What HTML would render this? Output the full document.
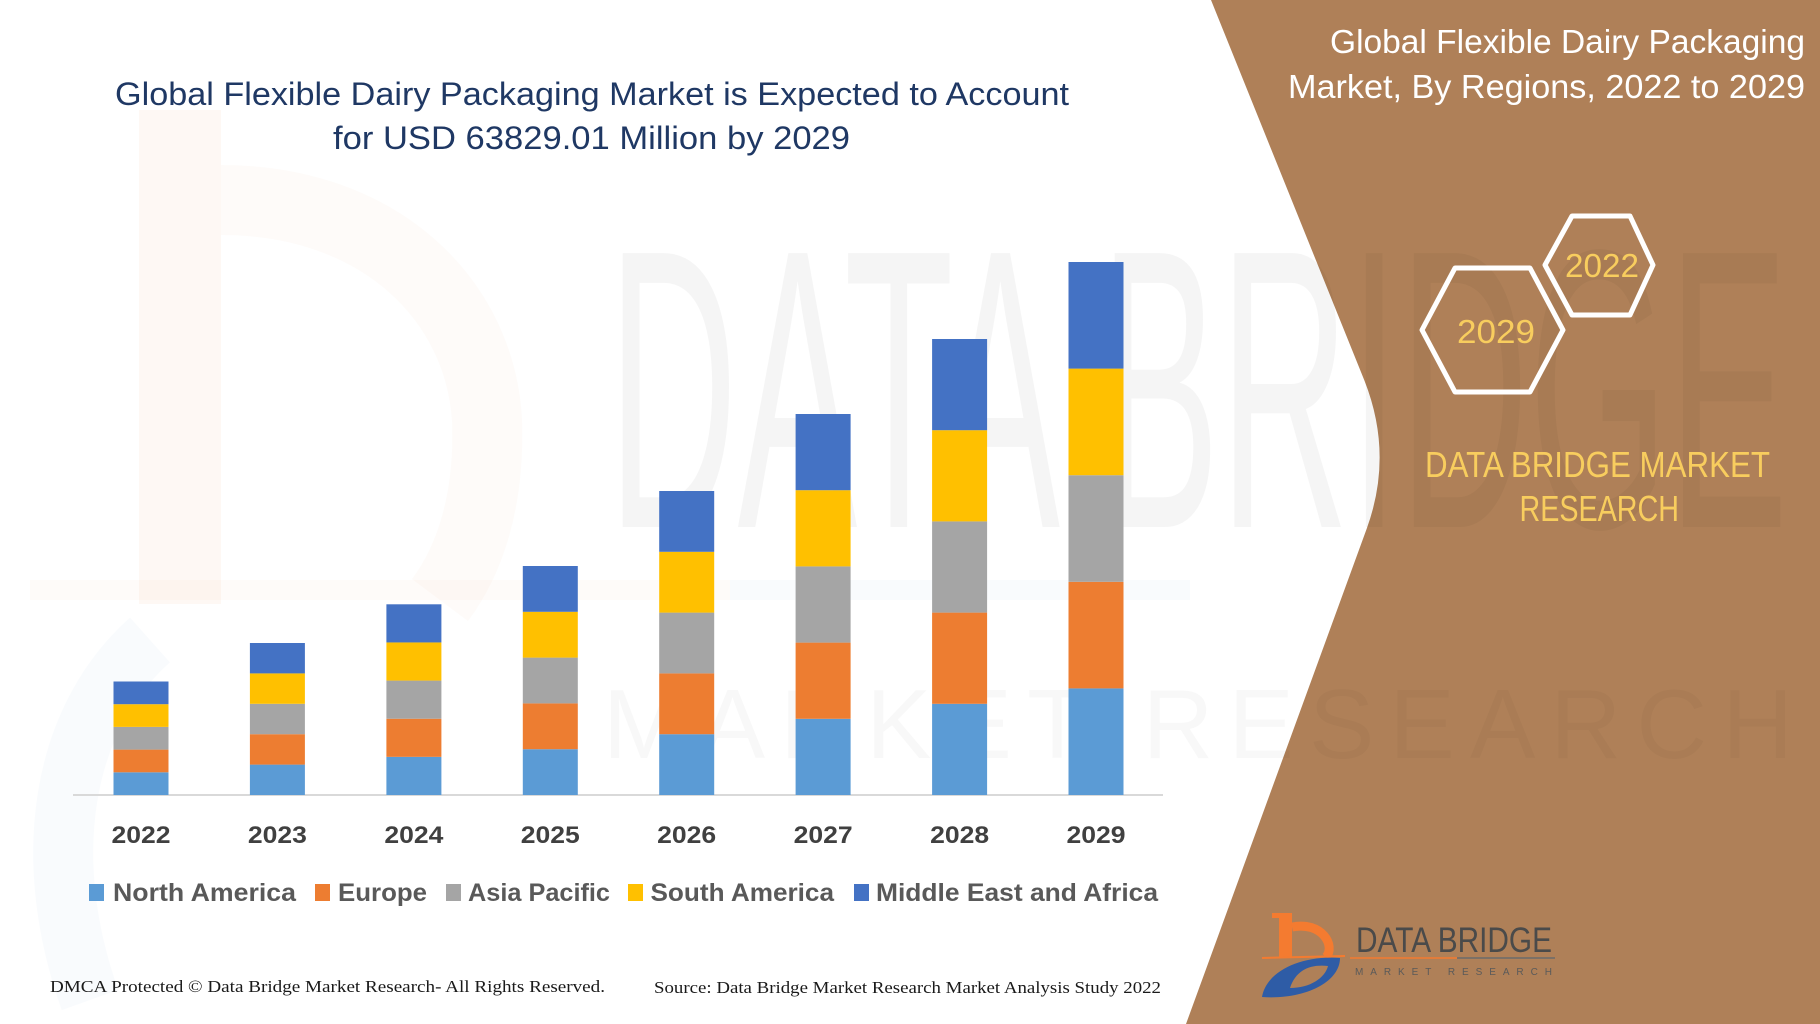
<!DOCTYPE html>
<html><head><meta charset="utf-8"><style>
html,body{margin:0;padding:0;background:#fff;}
svg{display:block;}
</style></head><body>
<svg width="1820" height="1024" viewBox="0 0 1820 1024" xmlns="http://www.w3.org/2000/svg">
<rect width="1820" height="1024" fill="#ffffff"/>
<!-- faint left logo watermark -->
<rect x="139" y="110" width="82" height="494" fill="#ED7D31" opacity="0.05"/>
<path d="M221,200 C380,200 480,300 487,420 C490,500 470,560 440,600" stroke="#ED7D31" stroke-width="70" fill="none" opacity="0.03"/>
<path d="M150,640 C60,720 40,860 90,1000" stroke="#4472C4" stroke-width="60" fill="none" opacity="0.03"/>
<rect x="30" y="580" width="700" height="20" fill="#ED7D31" opacity="0.03"/>
<rect x="730" y="580" width="460" height="20" fill="#4472C4" opacity="0.03"/>

<!-- brown panel -->
<path d="M1211,0 L1363.8,379 Q1394,454 1366.6,529 L1186,1024 L1820,1024 L1820,0 Z" fill="#AF8058"/>

<!-- big watermark -->
<text x="608" y="527" font-family="Liberation Sans, sans-serif" font-size="398" textLength="1180" lengthAdjust="spacingAndGlyphs" fill="#000" opacity="0.035">DATA BRIDGE</text>
<text x="603" y="758" font-family="Liberation Sans, sans-serif" font-size="98" textLength="1190" lengthAdjust="spacing" fill="#000" opacity="0.025">MARKET RESEARCH</text>

<!-- title -->
<g font-family="Liberation Sans, sans-serif" font-size="32" fill="#1F3864">
<text x="115" y="105" textLength="954" lengthAdjust="spacingAndGlyphs">Global Flexible Dairy Packaging Market is Expected to Account</text>
<text x="333" y="149" textLength="517" lengthAdjust="spacingAndGlyphs">for USD 63829.01 Million by 2029</text>
</g>

<!-- axis -->
<line x1="73" y1="795" x2="1163" y2="795" stroke="#D9D9D9" stroke-width="2"/>

<!-- bars -->
<g>
<rect x="113.5" y="772.3" width="55" height="22.7" fill="#5B9BD5"/>
<rect x="113.5" y="749.6" width="55" height="22.7" fill="#ED7D31"/>
<rect x="113.5" y="726.9" width="55" height="22.7" fill="#A5A5A5"/>
<rect x="113.5" y="704.2" width="55" height="22.7" fill="#FFC000"/>
<rect x="113.5" y="681.5" width="55" height="22.7" fill="#4472C4"/>
<rect x="249.9" y="764.6" width="55" height="30.4" fill="#5B9BD5"/>
<rect x="249.9" y="734.2" width="55" height="30.4" fill="#ED7D31"/>
<rect x="249.9" y="703.8" width="55" height="30.4" fill="#A5A5A5"/>
<rect x="249.9" y="673.4" width="55" height="30.4" fill="#FFC000"/>
<rect x="249.9" y="643.0" width="55" height="30.4" fill="#4472C4"/>
<rect x="386.4" y="756.86" width="55" height="38.14" fill="#5B9BD5"/>
<rect x="386.4" y="718.72" width="55" height="38.14" fill="#ED7D31"/>
<rect x="386.4" y="680.58" width="55" height="38.14" fill="#A5A5A5"/>
<rect x="386.4" y="642.44" width="55" height="38.14" fill="#FFC000"/>
<rect x="386.4" y="604.3" width="55" height="38.14" fill="#4472C4"/>
<rect x="522.8" y="749.2" width="55" height="45.8" fill="#5B9BD5"/>
<rect x="522.8" y="703.4" width="55" height="45.8" fill="#ED7D31"/>
<rect x="522.8" y="657.6" width="55" height="45.8" fill="#A5A5A5"/>
<rect x="522.8" y="611.8" width="55" height="45.8" fill="#FFC000"/>
<rect x="522.8" y="566.0" width="55" height="45.8" fill="#4472C4"/>
<rect x="659.2" y="734.2" width="55" height="60.8" fill="#5B9BD5"/>
<rect x="659.2" y="673.4" width="55" height="60.8" fill="#ED7D31"/>
<rect x="659.2" y="612.6" width="55" height="60.8" fill="#A5A5A5"/>
<rect x="659.2" y="551.8" width="55" height="60.8" fill="#FFC000"/>
<rect x="659.2" y="491.0" width="55" height="60.8" fill="#4472C4"/>
<rect x="795.6" y="718.8" width="55" height="76.2" fill="#5B9BD5"/>
<rect x="795.6" y="642.6" width="55" height="76.2" fill="#ED7D31"/>
<rect x="795.6" y="566.4" width="55" height="76.2" fill="#A5A5A5"/>
<rect x="795.6" y="490.2" width="55" height="76.2" fill="#FFC000"/>
<rect x="795.6" y="414.0" width="55" height="76.2" fill="#4472C4"/>
<rect x="932.1" y="703.8" width="55" height="91.2" fill="#5B9BD5"/>
<rect x="932.1" y="612.6" width="55" height="91.2" fill="#ED7D31"/>
<rect x="932.1" y="521.4" width="55" height="91.2" fill="#A5A5A5"/>
<rect x="932.1" y="430.2" width="55" height="91.2" fill="#FFC000"/>
<rect x="932.1" y="339.0" width="55" height="91.2" fill="#4472C4"/>
<rect x="1068.5" y="688.4" width="55" height="106.6" fill="#5B9BD5"/>
<rect x="1068.5" y="581.8" width="55" height="106.6" fill="#ED7D31"/>
<rect x="1068.5" y="475.2" width="55" height="106.6" fill="#A5A5A5"/>
<rect x="1068.5" y="368.6" width="55" height="106.6" fill="#FFC000"/>
<rect x="1068.5" y="262.0" width="55" height="106.6" fill="#4472C4"/>
</g>

<!-- year labels -->
<g font-family="Liberation Sans, sans-serif" font-size="24" font-weight="bold" fill="#404040">
<text x="111.5" y="843" textLength="59" lengthAdjust="spacingAndGlyphs">2022</text>
<text x="247.9" y="843" textLength="59" lengthAdjust="spacingAndGlyphs">2023</text>
<text x="384.4" y="843" textLength="59" lengthAdjust="spacingAndGlyphs">2024</text>
<text x="520.8" y="843" textLength="59" lengthAdjust="spacingAndGlyphs">2025</text>
<text x="657.2" y="843" textLength="59" lengthAdjust="spacingAndGlyphs">2026</text>
<text x="793.6" y="843" textLength="59" lengthAdjust="spacingAndGlyphs">2027</text>
<text x="930.1" y="843" textLength="59" lengthAdjust="spacingAndGlyphs">2028</text>
<text x="1066.5" y="843" textLength="59" lengthAdjust="spacingAndGlyphs">2029</text>
</g>

<!-- legend -->
<rect x="89" y="884" width="15" height="17" fill="#5B9BD5"/>
<rect x="315" y="884" width="15" height="17" fill="#ED7D31"/>
<rect x="446" y="884" width="15" height="17" fill="#A5A5A5"/>
<rect x="628" y="884" width="15" height="17" fill="#FFC000"/>
<rect x="854" y="884" width="15" height="17" fill="#4472C4"/>
<g font-family="Liberation Sans, sans-serif" font-size="25" font-weight="bold" fill="#595959">
<text x="113" y="901" textLength="183" lengthAdjust="spacingAndGlyphs">North America</text>
<text x="338" y="901" textLength="89" lengthAdjust="spacingAndGlyphs">Europe</text>
<text x="468" y="901" textLength="142" lengthAdjust="spacingAndGlyphs">Asia Pacific</text>
<text x="650.5" y="901" textLength="183.5" lengthAdjust="spacingAndGlyphs">South America</text>
<text x="876" y="901" textLength="282" lengthAdjust="spacingAndGlyphs">Middle East and Africa</text>
</g>

<!-- footer -->
<g font-family="Liberation Serif, serif" font-size="17" fill="#1a1a1a">
<text x="50" y="992" textLength="555" lengthAdjust="spacingAndGlyphs">DMCA Protected © Data Bridge Market Research- All Rights Reserved.</text>
<text x="654" y="993" textLength="507" lengthAdjust="spacingAndGlyphs">Source: Data Bridge Market Research Market Analysis Study 2022</text>
</g>

<!-- right title -->
<g font-family="Liberation Sans, sans-serif" font-size="33" fill="#ffffff">
<text x="1330" y="53" textLength="475" lengthAdjust="spacingAndGlyphs">Global Flexible Dairy Packaging</text>
<text x="1288" y="98" textLength="517" lengthAdjust="spacingAndGlyphs">Market, By Regions, 2022 to 2029</text>
</g>

<!-- hexagons -->
<g fill="none" stroke="#ffffff" stroke-width="5" stroke-linejoin="round">
<polygon points="1545,265 1572,216 1630,216 1653,265 1630,315 1572,315"/>
<polygon points="1422,330 1455,268 1530,268 1563,330 1530,392 1455,392"/>
</g>
<g font-family="Liberation Sans, sans-serif" font-size="33" fill="#F8CD5E">
<text x="1565" y="277" textLength="74" lengthAdjust="spacingAndGlyphs">2022</text>
<text x="1457" y="343" textLength="78" lengthAdjust="spacingAndGlyphs">2029</text>
</g>

<!-- DATA BRIDGE MARKET RESEARCH -->
<g font-family="Liberation Sans, sans-serif" font-size="36" fill="#F8CD5E">
<text x="1425" y="477" textLength="345" lengthAdjust="spacingAndGlyphs">DATA BRIDGE MARKET</text>
<text x="1519.5" y="521" textLength="159.5" lengthAdjust="spacingAndGlyphs">RESEARCH</text>
</g>

<!-- bottom logo -->
<g>
<rect x="1279" y="913" width="13" height="44" fill="#F47B30"/>
<rect x="1272" y="913" width="20" height="5" fill="#F47B30"/>
<path d="M1292,927 C1322,921 1336,946 1326,957" stroke="#F47B30" stroke-width="9" fill="none"/>
<line x1="1262" y1="958" x2="1345" y2="956" stroke="#F47B30" stroke-width="2"/>
<path d="M1262,997 C1266,972 1300,955 1340,958 C1340,982 1305,1000 1262,997 Z M1290,988 C1310,988 1325,978 1328,966 C1310,964 1296,970 1290,988 Z" fill="#2E5CA6" fill-rule="evenodd"/>
<text x="1356" y="952" font-family="Liberation Sans, sans-serif" font-size="35" fill="#4A4A4A" textLength="196" lengthAdjust="spacingAndGlyphs">DATA BRIDGE</text>
<line x1="1350" y1="958" x2="1457" y2="958" stroke="#F47B30" stroke-width="1.5"/>
<line x1="1457" y1="958" x2="1555" y2="958" stroke="#6A6A6A" stroke-width="1.5"/>
<text x="1355" y="975" font-family="Liberation Sans, sans-serif" font-size="10" fill="#5a5a5a" textLength="197" lengthAdjust="spacing">MARKET RESEARCH</text>
</g>
</svg>
</body></html>
